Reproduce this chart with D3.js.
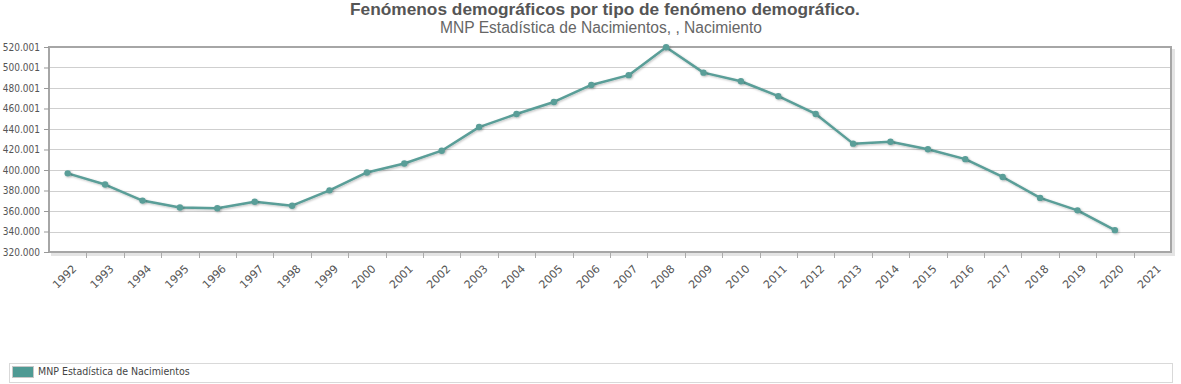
<!DOCTYPE html>
<html>
<head>
<meta charset="utf-8">
<script src="https://cdn.jsdelivr.net/npm/d3@7"></script>
<style>
  body { margin: 0; background: #fff; }
  svg { display: block; }
</style>
</head>
<body>
<script>
// chart data
var years = ["1992","1993","1994","1995","1996","1997","1998","1999","2000","2001",
             "2002","2003","2004","2005","2006","2007","2008","2009","2010","2011",
             "2012","2013","2014","2015","2016","2017","2018","2019","2020","2021"];
var births = [396747, 385786, 370148, 363469, 362626, 369035, 365193, 380130, 397632, 406380,
              418846, 441881, 454591, 466371, 482957, 492527, 519779, 494997, 486575, 471999,
              454648, 425715, 427595, 420290, 410583, 393181, 372777, 360617, 341315, null];
var yTicks = [320000, 340000, 360000, 380000, 400000, 420001, 440001, 460001, 480001, 500001, 520001];
var yTickLabels = ["320.000","340.000","360.000","380.000","400.000","420.001","440.001","460.001","480.001","500.001","520.001"];
var seriesName = "MNP Estadística de Nacimientos";
var titleText = "Fenómenos demográficos por tipo de fenómeno demográfico.";
var subtitleText = "MNP Estadística de Nacimientos, , Nacimiento";

var W = 1181, H = 384;
var margin = {top: 47, right: 10, bottom: 132, left: 49},
    width = W - margin.left - margin.right,
    height = H - margin.top - margin.bottom;

var lineColor = "#5a9e98";

var svg = d3.select("body").append("svg")
    .attr("width", W).attr("height", H);

var defs = svg.append("defs");
var sh = defs.append("filter").attr("id", "ptshadow")
    .attr("x", "-100%").attr("y", "-100%").attr("width", "300%").attr("height", "300%");
sh.append("feDropShadow").attr("dx", 1).attr("dy", 1).attr("stdDeviation", 1)
    .attr("flood-color", "#000").attr("flood-opacity", 0.25);

// titles
svg.append("text").attr("x", 605).attr("y", 15)
    .attr("text-anchor", "middle")
    .style("font-family", "Liberation Sans, Arial, sans-serif")
    .style("font-size", "17.3px").style("font-weight", "bold").style("fill", "#555")
    .text(titleText);
svg.append("text").attr("x", 601).attr("y", 33)
    .attr("text-anchor", "middle")
    .style("font-family", "Liberation Sans, Arial, sans-serif")
    .style("font-size", "15.6px").style("fill", "#666")
    .text(subtitleText);

var g = svg.append("g")
    .attr("transform", "translate(" + margin.left + "," + margin.top + ")");

var x = d3.scaleBand().domain(years).range([0, width]).padding(0);
var y = d3.scaleLinear().domain([320000, 520001]).range([height, 0]);

// grid lines
g.append("g").selectAll("line").data(yTicks).enter().append("line")
    .attr("x1", 0).attr("x2", width)
    .attr("y1", function(d){ return Math.round(y(d)) + 0.5; })
    .attr("y2", function(d){ return Math.round(y(d)) + 0.5; })
    .attr("stroke", "#cfcfcf").attr("stroke-width", 1);

// frame shadow (right + bottom)
g.append("rect").attr("x", width + 1).attr("y", 2).attr("width", 3).attr("height", height + 1)
    .attr("fill", "#e4e4e4");
g.append("rect").attr("x", 2).attr("y", height + 1).attr("width", width + 2).attr("height", 3)
    .attr("fill", "#e4e4e4");
// frame
g.append("rect").attr("x", 0).attr("y", 0).attr("width", width).attr("height", height)
    .attr("fill", "none").attr("stroke", "#a6a6a6").attr("stroke-width", 2);

// y axis
var yAxis = d3.axisLeft(y).tickValues(yTicks).tickSize(5).tickPadding(4)
    .tickFormat(function(d, i){ return yTickLabels[i]; });
var ya = g.append("g").call(yAxis);
ya.select(".domain").remove();
ya.selectAll("line").attr("stroke", "#999");
ya.selectAll("text")
    .style("font-family", "DejaVu Sans Condensed, DejaVu Sans, sans-serif")
    .style("font-size", "10px").style("fill", "#555");

// x axis ticks at band boundaries
var xa = g.append("g").attr("transform", "translate(0," + (height + 1) + ")");
xa.selectAll("line").data(years.slice(1)).enter().append("line")
    .attr("x1", function(d){ return Math.round(x(d)) + 0.5; })
    .attr("x2", function(d){ return Math.round(x(d)) + 0.5; })
    .attr("y1", 0).attr("y2", 5)
    .attr("stroke", "#aaa");
xa.selectAll("text").data(years).enter().append("text")
    .attr("transform", function(d){
        return "translate(" + (x(d) + x.bandwidth() / 2 + 4) + ",11) rotate(-45)";
    })
    .attr("text-anchor", "end")
    .attr("dy", "0.7em")
    .style("font-family", "DejaVu Sans, Verdana, sans-serif")
    .style("font-size", "11px").style("fill", "#555")
    .text(function(d){ return d; });

// series
var pts = years.map(function(d, i){ return {year: d, value: births[i]}; })
    .filter(function(p){ return p.value != null; });

var line = d3.line()
    .x(function(p){ return x(p.year) + x.bandwidth() / 2; })
    .y(function(p){ return y(p.value); });

g.append("path").datum(pts)
    .attr("d", line)
    .attr("fill", "none")
    .attr("stroke", lineColor).attr("stroke-width", 2.5)
    .attr("stroke-linejoin", "round")
    .attr("filter", "url(#ptshadow)");

g.append("g").selectAll("circle").data(pts).enter().append("circle")
    .attr("cx", function(p){ return x(p.year) + x.bandwidth() / 2; })
    .attr("cy", function(p){ return y(p.value); })
    .attr("r", 3.2)
    .attr("fill", lineColor)
    .attr("filter", "url(#ptshadow)");

// legend
var lg = svg.append("g");
lg.append("rect").attr("x", 9.5).attr("y", 363.5).attr("width", 1163).attr("height", 19)
    .attr("fill", "#fff").attr("stroke", "#d9d9d9");
lg.append("rect").attr("x", 12.5).attr("y", 366.5).attr("width", 21).attr("height", 11)
    .attr("fill", "#4f9a94").attr("stroke", "#c8c8c8");
lg.append("text").attr("x", 38).attr("y", 375)
    .style("font-family", "DejaVu Sans Condensed, DejaVu Sans, sans-serif")
    .style("font-size", "10.5px").style("fill", "#444")
    .text(seriesName);
</script>
</body>
</html>
